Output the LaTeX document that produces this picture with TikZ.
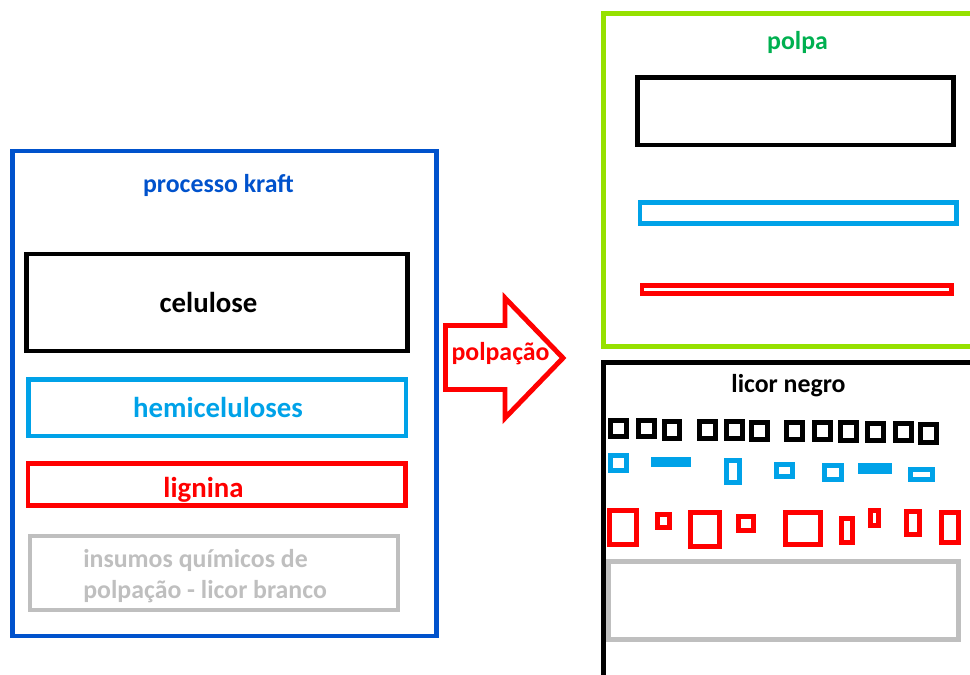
\documentclass[tikz,border=0pt]{standalone}
\usepackage{fontspec}
\setmainfont{Carlito}

\definecolor{azulK}{RGB}{0,82,204}
\definecolor{ciano}{RGB}{0,162,232}
\definecolor{vermelho}{RGB}{255,0,0}
\definecolor{verdeC}{RGB}{150,225,0}
\definecolor{verdeT}{RGB}{0,176,80}
\definecolor{cinza}{RGB}{191,191,191}

\begin{document}
\begin{tikzpicture}[x=0.02cm,y=-0.02cm,line join=miter,
  caixa/.style={line width=2.8pt},
  rotulo/.style={inner sep=0pt,anchor=base,font=\bfseries\fontsize{14.7}{17}\selectfont},
  rotuloG/.style={inner sep=0pt,anchor=base,font=\bfseries\fontsize{16.4}{19}\selectfont}]

% area visivel (970 x 675 px)
\clip (0,0) rectangle (970,675);

% processo kraft (caixa azul)
\draw[caixa,azulK] (12.5,151) rectangle (436.5,636);
\node[rotulo,text=azulK] (kraft) at (218.5,193) {processo kraft};

% componentes da madeira
\draw[caixa,black] (26.5,254) rectangle (407.5,351);
\node[rotuloG] (celulose) at (208.5,313) {celulose};
\draw[caixa,ciano] (28.5,379.5) rectangle (406,436);
\node[rotuloG,text=ciano] (hemi) at (218,418) {hemiceluloses};
\draw[caixa,vermelho] (28,463.5) rectangle (405.5,505.5);
\node[rotuloG,text=vermelho] (lignina) at (203.5,497) {lignina};

% insumos quimicos
\draw[caixa,cinza] (30,536) rectangle (398,610);
\node[rotulo,anchor=base west,text=cinza] (insumosA) at (83,567) {insumos químicos de};
\node[rotulo,anchor=base west,text=cinza] (insumosB) at (83,598) {polpação - licor branco};

% seta da polpacao
\draw[caixa,vermelho] (445.5,325.5) -- (505,325.5) -- (505,298) -- (563,358)
  -- (505,418) -- (505,389.5) -- (445.5,389.5) -- cycle;
\node[rotulo,text=vermelho] (polpacao) at (500.5,360) {polpação};

% polpa (caixa verde, sai pela direita)
\draw[caixa,verdeC] (603.5,13.5) rectangle (1000,346.5);
\node[rotulo,text=verdeT] (polpa) at (797.5,50) {polpa};
\draw[caixa,black] (637.5,77.5) rectangle (953.5,145);
\draw[caixa,ciano] (640,202.5) rectangle (956.5,223.5);
\draw[caixa,vermelho] (642,285.5) rectangle (951.5,293.5);

% licor negro (caixa preta, sai pela direita e por baixo)
\draw[caixa,black] (603.5,362.5) rectangle (1000,700);
\node[rotulo] (licor) at (788.5,393) {licor negro};

% fragmentos de celulose
\foreach \xa/\ya/\xb/\yb in {608/418/629/439,636/418/657/439,662/419/682/441,
  697/419/718/441,724/419/745/441,749/420/770/442,784/420/805/442,
  812/420/833/442,838/420/859/443,865/421/886/443,893/421/914/443,918/422/939/445}
  \draw[caixa,black] (\xa+2.5,\ya+2.5) rectangle (\xb-2.5,\yb-2.5);

% fragmentos de hemiceluloses
\foreach \xa/\ya/\xb/\yb in {608/453/629/473,724/458/742/485,774/462/795/479,
  822/463/844/482,908/467/935/482}
  \draw[caixa,ciano] (\xa+2.5,\ya+2.5) rectangle (\xb-2.5,\yb-2.5);
\fill[ciano] (651,457) rectangle (691,467);
\fill[ciano] (858,463) rectangle (892,474);

% fragmentos de lignina
\foreach \xa/\ya/\xb/\yb in {607/508/639/547,655/512/672/530,688/510/722/549,
  736/514/756/533,783/510/823/547,839/516/855/545,868/508/881/528,
  904/509/922/537,939/510/961/545}
  \draw[caixa,vermelho] (\xa+2.5,\ya+2.5) rectangle (\xb-2.5,\yb-2.5);

% residuo de insumos
\draw[caixa,cinza] (608.5,561.5) rectangle (958.5,639.5);

\end{tikzpicture}
\end{document}
